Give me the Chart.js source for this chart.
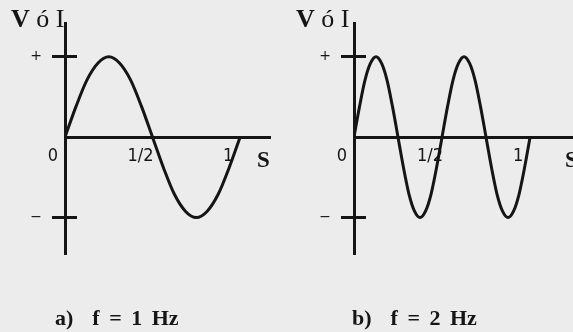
<!DOCTYPE html>
<html><head><meta charset="utf-8">
<script src="https://cdn.jsdelivr.net/npm/chart.js@4/dist/chart.umd.min.js"></script>
<style>
html,body{margin:0;padding:0;background:#ececec;}
#wrap{position:relative;width:573px;height:332px;overflow:hidden;background:#ececec;}
.pane{position:absolute;top:0;height:332px;}
.t{position:absolute;color:#151515;white-space:pre;line-height:1;}
.vi{font-family:'Liberation Serif',serif;font-size:26px;}
.s{font-family:'Liberation Serif',serif;font-weight:bold;font-size:23px;}
.cap{font-family:'Liberation Serif',serif;font-weight:bold;font-size:22px;word-spacing:4px;}
</style></head><body>
<div id="wrap">
  <div class="pane" style="left:0;width:290px"><canvas id="c1" width="290" height="332"></canvas></div>
  <div class="pane" style="left:290px;width:283px"><canvas id="c2" width="283" height="332"></canvas></div>
  <span class="t vi" style="left:11px;top:6px"><b>V</b> ó I</span>
  <span class="t vi" style="left:296px;top:6px"><b>V</b> ó I</span>
  <span class="t s" style="left:257px;top:148px">S</span>
  <span class="t s" style="left:565px;top:148px">S</span>
  <span class="t cap" style="left:55px;top:307px">a)  f = 1 Hz</span>
  <span class="t cap" style="left:352px;top:307px">b)  f = 2 Hz</span>
</div>
<script>
// ---- data ----
const xTicks = [0, 0.5, 1];
const xTickLabels = ['0', '1/2', '1'];
const yTicks = [1, -1];
const yTickLabels = ['+', '\u2212'];

// a) f = 1 Hz : time (s) and value
const timeA = [0, 0.0625, 0.125, 0.1875, 0.25, 0.3125, 0.375, 0.4375, 0.5,
               0.5625, 0.625, 0.6875, 0.75, 0.8125, 0.875, 0.9375, 1];
const valueA = [0, 0.38, 0.71, 0.92, 1, 0.92, 0.71, 0.38, 0,
                -0.38, -0.71, -0.92, -1, -0.92, -0.71, -0.38, 0];

// b) f = 2 Hz
const timeB = [0, 0.03125, 0.0625, 0.09375, 0.125, 0.15625, 0.1875, 0.21875, 0.25,
               0.28125, 0.3125, 0.34375, 0.375, 0.40625, 0.4375, 0.46875, 0.5,
               0.53125, 0.5625, 0.59375, 0.625, 0.65625, 0.6875, 0.71875, 0.75,
               0.78125, 0.8125, 0.84375, 0.875, 0.90625, 0.9375, 0.96875, 1];
const valueB = [0, 0.38, 0.71, 0.92, 1, 0.92, 0.71, 0.38, 0,
                -0.38, -0.71, -0.92, -1, -0.92, -0.71, -0.38, 0,
                0.38, 0.71, 0.92, 1, 0.92, 0.71, 0.38, 0,
                -0.38, -0.71, -0.92, -1, -0.92, -0.71, -0.38, 0];

const INK = '#151515';
const tickFont = {family: "'Liberation Sans Narrow','DejaVu Sans Condensed','Liberation Sans',sans-serif", size: 18};
const Y_MIN = -1.44, Y_MAX = 1.42;

function makeChart(id, t, v, xMax, padLeft, padRight) {
  return new Chart(document.getElementById(id), {
    type: 'line',
    data: {
      datasets: [{
        data: t.map((x, i) => ({x: x, y: v[i]})),
        borderColor: INK, borderWidth: 3, pointRadius: 0,
        tension: 0.4, cubicInterpolationMode: 'monotone', fill: false
      }]
    },
    options: {
      responsive: false, animation: false,
      layout: {padding: {left: padLeft, right: padRight, top: 23, bottom: 79}},
      plugins: {legend: {display: false}, tooltip: {enabled: false}},
      scales: {
        x: {
          type: 'linear', min: 0, max: xMax, position: {y: 0},
          border: {display: true, color: INK, width: 3},
          grid: {display: false, drawTicks: false},
          afterBuildTicks: s => { s.ticks = xTicks.map(value => ({value})); },
          ticks: {
            font: tickFont, color: INK, padding: 8, labelOffset: -12,
            maxRotation: 0, autoSkip: false,
            callback: value => xTickLabels[xTicks.indexOf(value)]
          }
        },
        y: {
          type: 'linear', min: Y_MIN, max: Y_MAX, position: {x: 0},
          border: {display: true, color: INK, width: 3},
          grid: {display: true, drawOnChartArea: false, drawTicks: true, tickLength: 12, lineWidth: 3, color: INK},
          afterBuildTicks: s => { s.ticks = yTicks.map(value => ({value})); },
          ticks: {display: false}
        },
        yt: {
          type: 'linear', min: Y_MIN, max: Y_MAX, position: {x: 0.069},
          border: {display: false},
          grid: {display: true, drawOnChartArea: false, drawTicks: true, tickLength: 12, lineWidth: 3, color: INK},
          afterBuildTicks: s => { s.ticks = yTicks.map(value => ({value})); },
          ticks: {display: false}
        },
        yl: {
          type: 'linear', min: Y_MIN, max: Y_MAX, position: {x: -0.131},
          border: {display: false},
          grid: {display: false},
          afterBuildTicks: s => { s.ticks = yTicks.map(value => ({value})); },
          ticks: {
            font: {family: "'DejaVu Sans',sans-serif", size: 14}, color: INK, padding: 0,
            callback: value => yTickLabels[yTicks.indexOf(value)]
          }
        }
      }
    }
  });
}

makeChart('c1', timeA, valueA, 1.171, 65, 20);
makeChart('c2', timeB, valueB, 1.244, 64, 0);
</script>
</body></html>
